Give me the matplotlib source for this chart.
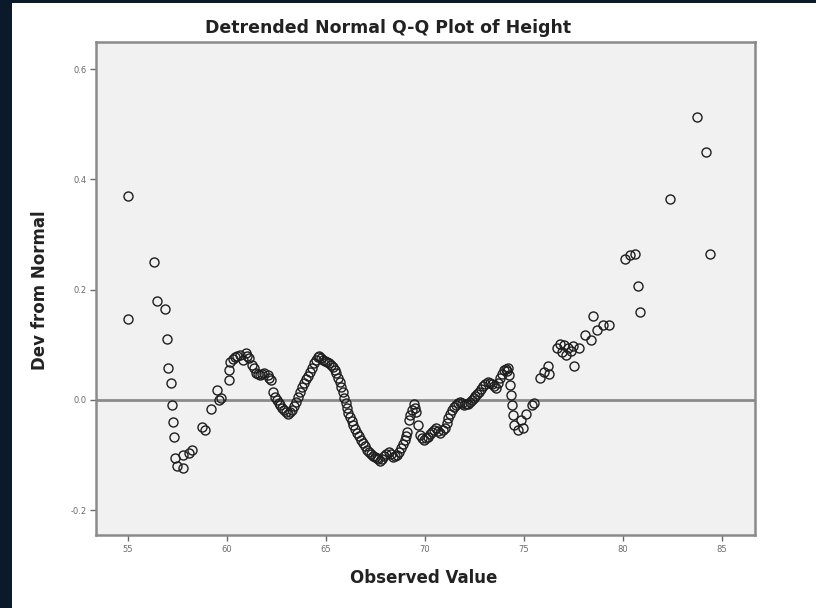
import numpy as np
import matplotlib.pyplot as plt
from matplotlib.patches import Rectangle

obs = [55.0, 55.0, 56.3, 56.45, 56.85, 56.95, 57.0, 57.15, 57.2, 57.25, 57.3, 57.35,
       57.45, 57.75, 57.75, 58.1, 58.25, 58.75, 58.9, 59.2, 59.5, 59.6, 59.7,
       60.1, 60.1, 60.15, 60.4, 60.65, 60.8, 60.95, 61.1, 61.25, 61.45, 61.65, 61.85,
       62.05, 62.2, 62.3, 62.5, 62.7, 62.9, 63.1, 63.3, 63.5, 63.7, 63.9, 64.1, 64.3,
       64.5, 64.65, 64.85, 65.05, 65.25, 65.45, 65.6, 65.75, 65.9, 66.05, 66.2, 66.35,
       66.55, 66.75, 66.95, 67.15, 67.35, 67.55, 67.75, 67.95, 68.2, 68.4, 68.6, 68.8,
       69.0, 69.1, 69.2, 69.35, 69.45, 69.55, 69.65, 69.75, 69.95, 70.15, 70.35, 70.55,
       70.75, 71.0, 71.15, 71.35, 71.55, 71.75, 71.95, 72.15, 72.35, 72.55, 72.75,
       72.95, 73.2, 73.4, 73.6, 73.8, 74.0, 74.2, 74.25, 74.3, 74.35, 74.4, 74.45,
       74.5, 74.7, 74.85, 74.95, 75.1, 75.4, 75.5, 75.8, 76.0, 76.25, 76.2, 76.65,
       76.8, 76.9, 77.0, 77.1, 77.2, 77.35, 77.5, 77.55, 77.8, 78.1, 78.4, 78.5,
       78.7, 79.0, 79.3, 80.1, 80.35, 80.6, 80.75, 80.85, 82.4, 83.75, 84.2, 84.4,
       # denser overlap in the middle
       60.3, 60.5, 61.0, 61.35, 61.55, 61.75, 62.1, 62.4, 62.6, 62.8, 63.0, 63.2,
       63.4, 63.6, 63.8, 64.0, 64.2, 64.4, 64.6, 64.75, 64.95, 65.15, 65.35, 65.5,
       65.7, 65.85, 66.0, 66.1, 66.3, 66.45, 66.65, 66.85, 67.05, 67.25, 67.45,
       67.65, 67.85, 68.05, 68.3, 68.5, 68.7, 68.9, 69.05, 69.25, 69.5, 69.85,
       70.05, 70.25, 70.45, 70.65, 70.9, 71.1, 71.25, 71.45, 71.65, 71.85, 72.05,
       72.25, 72.45, 72.65, 72.85, 73.05, 73.3, 73.5, 73.7, 73.9, 74.1, 74.15]
dev = [0.37, 0.147, 0.25, 0.18, 0.165, 0.11, 0.058, 0.03, -0.01, -0.04, -0.068, -0.105,
       -0.12, -0.123, -0.1, -0.096, -0.09, -0.05, -0.055, -0.017, 0.018, 0.0, 0.004,
       0.036, 0.055, 0.069, 0.078, 0.082, 0.073, 0.085, 0.076, 0.064, 0.049, 0.045, 0.049,
       0.045, 0.036, 0.015, 0.0, -0.009, -0.018, -0.025, -0.018, -0.004, 0.015, 0.031, 0.044, 0.058,
       0.073, 0.080, 0.073, 0.069, 0.064, 0.055, 0.04, 0.024, 0.004, -0.015, -0.031, -0.045,
       -0.06, -0.073, -0.084, -0.095, -0.102, -0.105, -0.111, -0.102, -0.095, -0.104, -0.1, -0.087,
       -0.073, -0.058, -0.036, -0.018, -0.007, -0.022, -0.045, -0.064, -0.073, -0.067, -0.058, -0.051,
       -0.06, -0.051, -0.033, -0.018, -0.009, -0.004, -0.009, -0.007, 0.0, 0.007, 0.015,
       0.025, 0.033, 0.029, 0.022, 0.04, 0.055, 0.058, 0.045, 0.027, 0.009, -0.009, -0.027,
       -0.045, -0.055, -0.036, -0.051, -0.025, -0.009, -0.005, 0.04, 0.051, 0.047, 0.062, 0.095,
       0.102, 0.087, 0.1, 0.082, 0.095, 0.089, 0.098, 0.062, 0.095, 0.118, 0.109, 0.153,
       0.127, 0.135, 0.136, 0.256, 0.262, 0.265, 0.207, 0.16, 0.365, 0.513, 0.449, 0.264,
       0.074, 0.08, 0.08, 0.058, 0.047, 0.047, 0.04, 0.006, -0.005, -0.014, -0.022, -0.022,
       -0.011, 0.006, 0.023, 0.038, 0.051, 0.066, 0.077, 0.076, 0.071, 0.066, 0.06, 0.048,
       0.032, 0.014, -0.006, -0.023, -0.038, -0.052, -0.066, -0.079, -0.09, -0.099, -0.104,
       -0.108, -0.107, -0.099, -0.099, -0.102, -0.094, -0.08, -0.065, -0.027, -0.014, -0.07,
       -0.07, -0.062, -0.055, -0.056, -0.055, -0.042, -0.025, -0.013, -0.006, -0.006, -0.008,
       -0.003, 0.004, 0.011, 0.02, 0.029, 0.031, 0.025, 0.031, 0.047, 0.056, 0.052]

xticks = [55, 60, 65, 70, 75, 80, 85]
yticks = [-0.2, 0.0, 0.2, 0.4, 0.6]

fig = plt.figure(figsize=(8.16, 6.08), dpi=100)
fig.patch.set_facecolor('white')
# dark frame strips at the left and top edge
fig.patches.append(Rectangle((0, 0), 12/816, 1, transform=fig.transFigure,
                             facecolor='#0b1a2a', edgecolor='none'))
fig.patches.append(Rectangle((0, 1-3/608), 1, 3/608, transform=fig.transFigure,
                             facecolor='#0b1a2a', edgecolor='none'))

ax = fig.add_axes([96/816, 1-535/608, 659/816, 493/608])
ax.set_facecolor('#f1f1f1')
ax.axhline(0, color='#8a8a8a', lw=2, zorder=1)
ax.plot(obs, dev, 'o', mfc='none', mec='#1e1e1e', ms=6.5, mew=1.0, zorder=2)

ax.set_xlim(53.38, 86.67)
ax.set_ylim(-0.245, 0.649)
ax.set_xticks(xticks)
ax.set_xticklabels([str(t) for t in xticks])
ax.set_yticks(yticks)
ax.set_yticklabels(['%.1f' % t for t in yticks])
ax.tick_params(labelsize=6, colors='#6a6a6a', length=4, width=1, pad=3)
for s in ax.spines.values():
    s.set_color('#8a8a8a')
    s.set_linewidth(1.8)

fig.text(388/816, 1-28/608, 'Detrended Normal Q-Q Plot of Height', ha='center', va='center',
         fontsize=12.5, fontweight='bold', color='#222222')
fig.text(424/816, 1-578/608, 'Observed Value', ha='center', va='center',
         fontsize=12, fontweight='bold', color='#222222')
fig.text(40/816, 1-290/608, 'Dev from Normal', ha='center', va='center', rotation=90,
         fontsize=12, fontweight='bold', color='#222222')

fig.savefig('out.png', dpi=100)
